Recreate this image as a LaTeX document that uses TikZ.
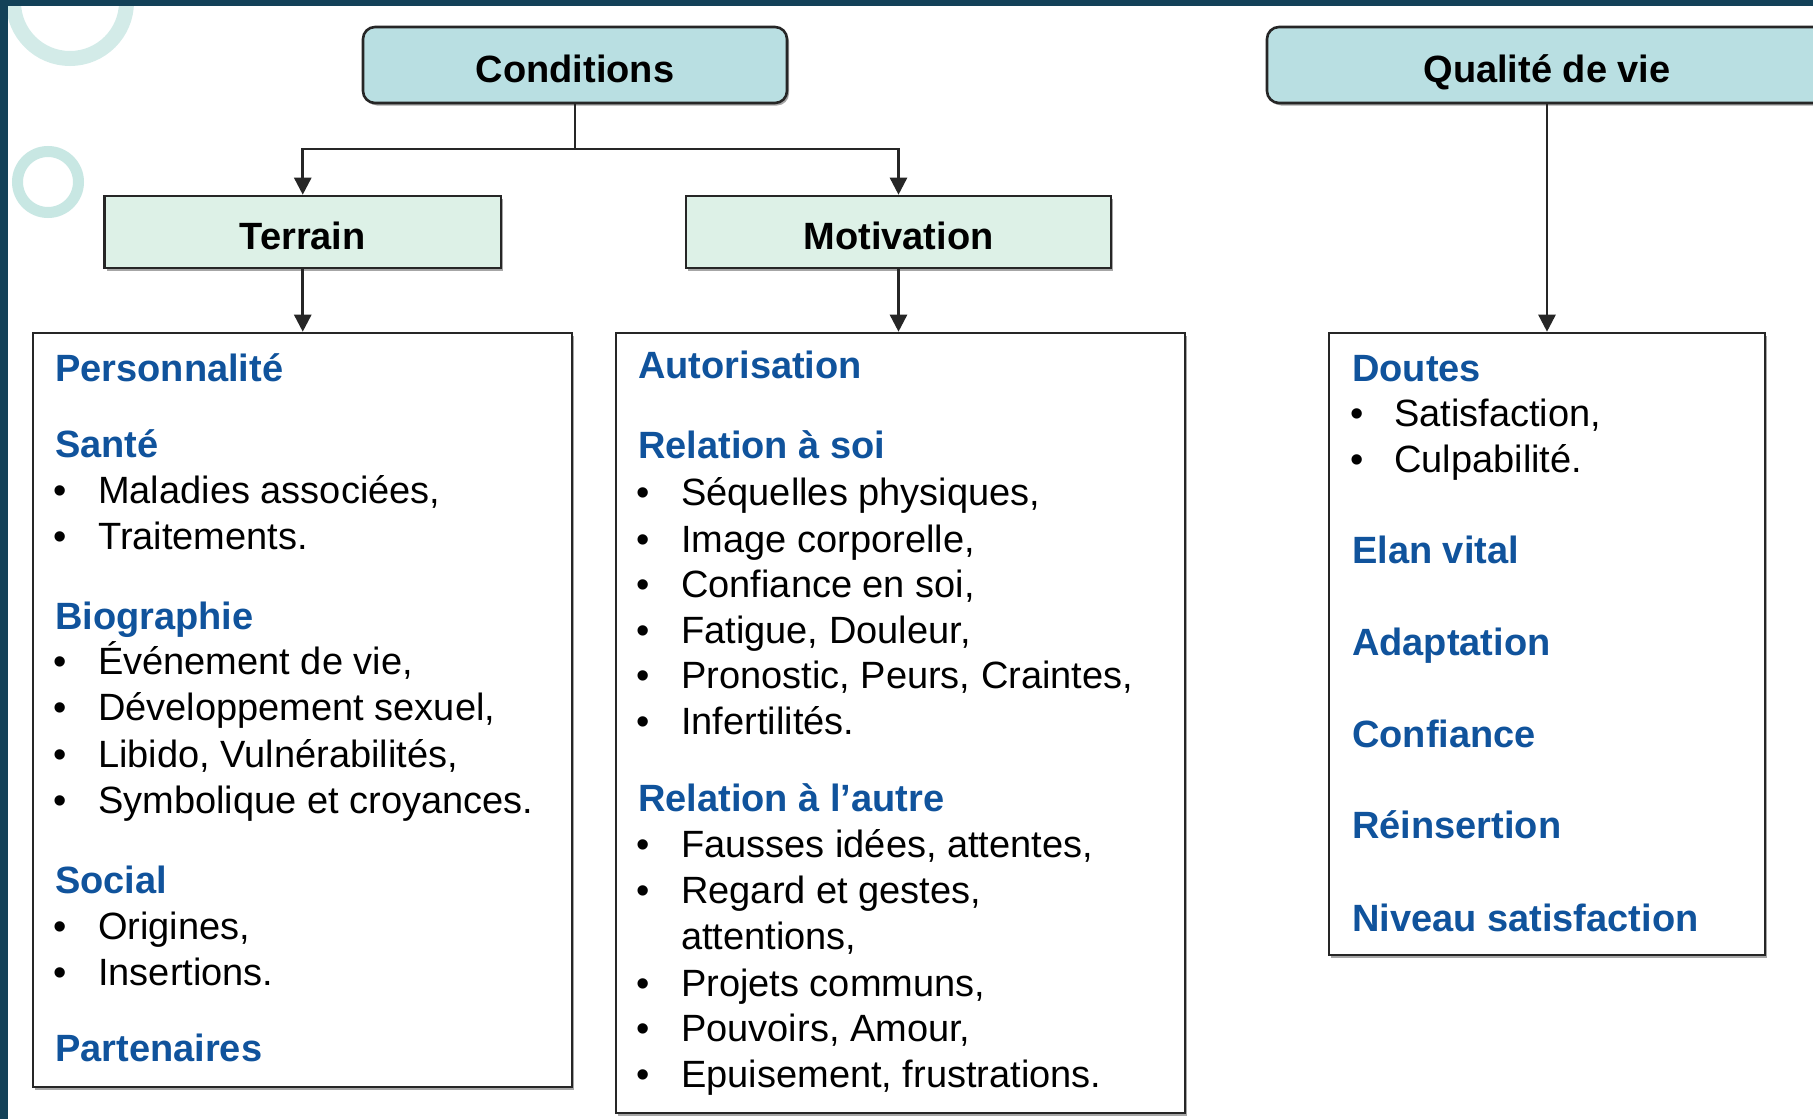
\documentclass[tikz,border=0pt]{standalone}
\usepackage{fontspec}
\setmainfont{Liberation Sans}
\usetikzlibrary{arrows.meta,shadows}
\definecolor{frame}{RGB}{19,65,88}
\definecolor{ring}{RGB}{200,231,227}
\definecolor{titlefill}{RGB}{185,223,226}
\definecolor{subfill}{RGB}{221,241,231}
\definecolor{headblue}{RGB}{16,83,156}
\definecolor{edge}{RGB}{38,38,38}
\newcommand\hdline[4]{\node[hd] (#1) at (#2,#3) {#4};}
\newcommand\bulitem[5]{\node[bul] (#1b) at (#2,#4) {•}; \node[itm] (#1) at (#3,#4) {#5};}
\newcommand\plainitem[4]{\node[itm] (#1) at (#2,#3) {#4};}
\begin{document}
\begin{tikzpicture}[x=1pt,y=-1pt,
  boxsh/.style={drop shadow={shadow xshift=2pt,shadow yshift=-2.5pt,opacity=0.35,fill=black}},
  titlebox/.style={draw=edge,line width=2.6pt,fill=titlefill,rounded corners=12pt,inner sep=0pt,
    text height=34pt,text depth=0pt,font=\bfseries\fontsize{38}{46}\selectfont,boxsh},
  subbox/.style={draw=edge,line width=2.6pt,fill=subfill,inner sep=0pt,
    text height=34pt,text depth=0pt,font=\bfseries\fontsize{38}{46}\selectfont,boxsh},
  bigbox/.style={draw=edge,line width=2.6pt,fill=white,inner sep=0pt,boxsh},
  conn/.style={draw=edge,line width=2.6pt},
  arr/.style={conn,-{Triangle[width=17pt,length=17pt]}},
  hd/.style={anchor=base west,inner sep=0pt,font=\bfseries\fontsize{38}{46}\selectfont,text=headblue},
  itm/.style={anchor=base west,inner sep=0pt,font=\fontsize{38}{46}\selectfont,text=black},
  bul/.style={anchor=base,inner sep=0pt,font=\fontsize{38}{46}\selectfont,text=black},
]
\useasboundingbox (0,0) rectangle (1813,1119);
\fill[white] (0,0) rectangle (1813,1119);
% decorative rings
\draw[ring,line width=15pt,opacity=0.8] (70,2) circle (56.5);
\draw[ring,line width=11pt] (48,182) circle (30.5);
% frame strips
\fill[frame] (0,0) rectangle (1813,5.5);
\fill[frame] (0,0) rectangle (7.7,1119);

% top-level boxes
\node[titlebox,minimum width=424pt,minimum height=76pt] (cond) at (575,65) {Conditions};
\node[titlebox,minimum width=560pt,minimum height=76pt] (qual) at (1547,65) {Qualité de vie};
\node[subbox,minimum width=396.5pt,minimum height=72pt] (terr) at (302.75,232) {Terrain};
\node[subbox,minimum width=425pt,minimum height=72pt] (motiv) at (898.5,232) {Motivation};

% content boxes
\node[bigbox,minimum width=539pt,minimum height=754pt] (lb) at (302.5,710) {};
\node[bigbox,minimum width=569pt,minimum height=780pt] (mb) at (900.5,723) {};
\node[bigbox,minimum width=436pt,minimum height=622pt] (rb) at (1547,644) {};

% connectors
\coordinate (cj) at (575,149);
\draw[conn] (cond.south) -- (cj);
\draw[arr] (cj) -| (terr.north);
\draw[arr] (cj) -| (motiv.north);
\draw[arr] (terr.south) -- (terr.south |- lb.north);
\draw[arr] (motiv.south) -- (motiv.south |- mb.north);
\draw[arr] (qual.south) -- (qual.south |- rb.north);

% left box text
\hdline{l1}{55}{381}{Personnalité}
\hdline{l2}{55}{457}{Santé}
\bulitem{l3}{60}{98}{503}{Maladies associées,}
\bulitem{l4}{60}{98}{549}{Traitements.}
\hdline{l5}{55}{629}{Biographie}
\bulitem{l6}{60}{98}{674}{Événement de vie,}
\bulitem{l7}{60}{98}{720.5}{Développement sexuel,}
\bulitem{l8}{60}{98}{767}{Libido, Vulnérabilités,}
\bulitem{l9}{60}{98}{813}{Symbolique et croyances.}
\hdline{l10}{55}{893}{Social}
\bulitem{l11}{60}{98}{939}{Origines,}
\bulitem{l12}{60}{98}{985}{Insertions.}
\hdline{l13}{55}{1061}{Partenaires}

% middle box text
\hdline{m1}{638}{378}{Autorisation}
\hdline{m2}{638}{458}{Relation à soi}
\bulitem{m3}{643}{681}{505.5}{Séquelles physiques,}
\bulitem{m4}{643}{681}{552}{Image corporelle,}
\bulitem{m5}{643}{681}{597}{Confiance en soi,}
\bulitem{m6}{643}{681}{643}{Fatigue, Douleur,}
\bulitem{m7}{643}{681}{688}{Pronostic, Peurs, Craintes,}
\bulitem{m8}{643}{681}{734.5}{Infertilités.}
\hdline{m9}{638}{811.5}{Relation à l’autre}
\bulitem{m10}{643}{681}{857}{Fausses idées, attentes,}
\bulitem{m11}{643}{681}{903}{Regard et gestes,}
\plainitem{m12}{681}{949.5}{attentions,}
\bulitem{m13}{643}{681}{996}{Projets communs,}
\bulitem{m14}{643}{681}{1041}{Pouvoirs, Amour,}
\bulitem{m15}{643}{681}{1087}{Epuisement, frustrations.}

% right box text
\hdline{r1}{1352}{381}{Doutes}
\bulitem{r2}{1357}{1394}{426}{Satisfaction,}
\bulitem{r3}{1357}{1394}{472}{Culpabilité.}
\hdline{r4}{1352}{563}{Elan vital}
\hdline{r5}{1352}{655}{Adaptation}
\hdline{r6}{1352}{747}{Confiance}
\hdline{r7}{1352}{838.5}{Réinsertion}
\hdline{r8}{1352}{931}{Niveau satisfaction}
\end{tikzpicture}
\end{document}
